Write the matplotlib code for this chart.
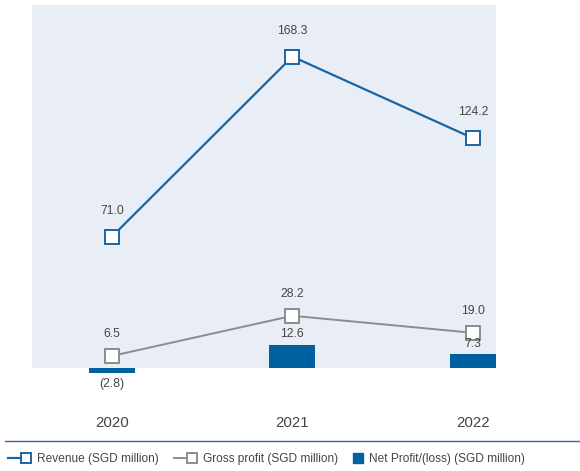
import matplotlib.pyplot as plt
from matplotlib.lines import Line2D
from matplotlib.patches import Rectangle
from matplotlib.legend_handler import HandlerLine2D

plt.rcParams['font.family'] = ['Liberation Sans', 'DejaVu Sans']

years = ['2020', '2021', '2022']
revenue = [71.0, 168.3, 124.2]
gross_profit = [6.5, 28.2, 19.0]
net_profit = [-2.8, 12.6, 7.3]

blue = '#1865a6'
grey = '#8c8c8c'
bar_blue = '#0061a1'
text_col = '#454545'


def fmt(v):
    return f'({abs(v):.1f})' if v < 0 else f'{v:.1f}'


class HandlerMarkerEnd(HandlerLine2D):
    """Line with the marker sitting at its right end."""

    def create_artists(self, legend, orig_handle, xdescent, ydescent,
                       width, height, fontsize, trans):
        y = height / 2 - ydescent
        line = Line2D([-xdescent, width - xdescent - 4], [y, y],
                      color=orig_handle.get_color(),
                      linewidth=orig_handle.get_linewidth())
        mark = Line2D([width - xdescent - 4], [y], linestyle='none',
                      marker='s', markersize=orig_handle.get_markersize() * 0.8,
                      markerfacecolor='white',
                      markeredgecolor=orig_handle.get_color(),
                      markeredgewidth=orig_handle.get_markeredgewidth())
        line.set_transform(trans)
        mark.set_transform(trans)
        return [line, mark]


fig = plt.figure(figsize=(5.8, 4.71), dpi=100)
ax = fig.add_axes([0, 0, 1, 1])
ax.set_axis_off()
ax.set_xlim(-0.62, 2.593)
ax.set_ylim(-55.7, 198.9)

x = list(range(len(years)))

# shaded panel behind the positive values
ax.add_patch(Rectangle((-0.444, 0), 2.572, 196, facecolor='#e9edf5',
                       edgecolor='none', zorder=0))

ax.bar(x, net_profit, width=0.255, color=bar_blue, zorder=2)
rev_line, = ax.plot(x, revenue, color=blue, lw=1.6, marker='s', ms=9.5,
                    mfc='white', mec=blue, mew=1.4, zorder=3)
gp_line, = ax.plot(x, gross_profit, color=grey, lw=1.4, marker='s', ms=9.5,
                   mfc='white', mec=grey, mew=1.4, zorder=3)

for xi, v in zip(x, revenue):
    ax.annotate(fmt(v), (xi, v), xytext=(0, 18.5), textcoords='offset points',
                ha='center', va='center', fontsize=8.8, color=text_col)
for xi, v in zip(x, gross_profit):
    ax.annotate(fmt(v), (xi, v), xytext=(0, 16), textcoords='offset points',
                ha='center', va='center', fontsize=8.8, color=text_col)
for xi, v in zip(x, net_profit):
    off = 7.5 if v >= 0 else -7.5
    ax.annotate(fmt(v), (xi, v), xytext=(0, off), textcoords='offset points',
                ha='center', va='center', fontsize=8.8, color=text_col)

for xi, yr in zip(x, years):
    ax.text(xi, -29.7, yr, ha='center', va='center', fontsize=10.8,
            color=text_col)

# separator above the legend
fig.add_artist(Line2D([0.009, 1.0], [0.0637, 0.0637], color='#2a6eab',
                      lw=1.0, transform=fig.transFigure))

bar_handle = Line2D([], [], linestyle='none', marker='s', ms=7.5,
                    color=bar_blue)
entries = [
    (rev_line, 'Revenue (SGD million)', 8, 2.0, HandlerMarkerEnd()),
    (gp_line, 'Gross profit (SGD million)', 174, 2.0, HandlerMarkerEnd()),
    (bar_handle, 'Net Profit/(loss) (SGD million)', 353, 0.9, None),
]
for handle, label, px, hlen, handler in entries:
    hmap = {handle: handler} if handler is not None else None
    leg = fig.legend([handle], [label], handler_map=hmap,
                     loc='center left', bbox_to_anchor=(px / 580, 0.025),
                     frameon=False, fontsize=8.6, handlelength=hlen,
                     handletextpad=0.45, borderaxespad=0, borderpad=0)
    for t in leg.get_texts():
        t.set_color(text_col)

fig.savefig('out.png', dpi=100)
